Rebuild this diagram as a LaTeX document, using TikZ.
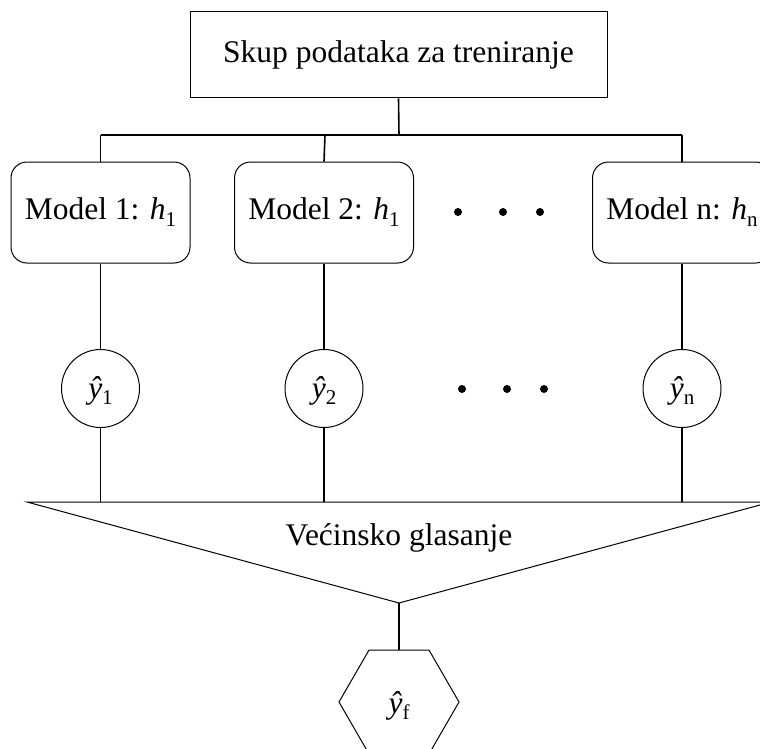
\documentclass[tikz,border=0pt]{standalone}
\usepackage{fontspec}
\setmainfont{Liberation Serif}
\usetikzlibrary{shapes.geometric}
\tikzset{
  txt/.style={font=\fontsize{31.5}{38}\selectfont},
  topbox/.style={draw, line width=1pt, rectangle, minimum width=417pt, minimum height=86pt, inner sep=0pt, txt},
  modelbox/.style={draw, line width=1pt, rectangle, rounded corners=16pt, minimum width=179pt, minimum height=101pt, inner sep=0pt, txt},
  outcircle/.style={draw, line width=1pt, circle, minimum size=78pt, inner sep=0pt},
  hexbox/.style={draw, line width=1pt, regular polygon, regular polygon sides=6, minimum size=120pt, inner sep=0pt},
  conn/.style={line width=1.6pt},
  dotmark/.style={circle, fill=black, minimum size=8pt, inner sep=0pt},
}
\newcommand{\subtx}[1]{\raisebox{-0.22em}{\fontsize{21}{24}\selectfont #1}}
\begin{document}
\begin{tikzpicture}[x=1pt,y=-1pt]
\useasboundingbox (0,0) rectangle (760,749);
\clip (0,0) rectangle (760,749);
% top box
\node[topbox] (data) at (398.5,55) {Skup podataka za treniranje};
% models
\node[modelbox] (m1) at (100.5,212.5) {Model 1: \textit{h}\subtx{1}};
\node[modelbox] (m2) at (324,212.5) {Model 2: \textit{h}\subtx{1}};
\node[modelbox] (mn) at (682,212.5) {Model n: \textit{h}\subtx{n}};
% dots
\node[dotmark] (d1) at (458,212) {};
\node[dotmark] (d2) at (503,212) {};
\node[dotmark] (d3) at (540,212) {};
\node[dotmark] (e1) at (462,389) {};
\node[dotmark] (e2) at (507,389) {};
\node[dotmark] (e3) at (544,389) {};
% outputs
\node[outcircle] (y1) at (100.5,388.5) {};
\node[outcircle] (y2) at (324,388.5) {};
\node[outcircle] (yn) at (682,388.5) {};
\node[txt, anchor=base] (ly1) at (100.5,398) {\textit{ŷ}\subtx{1}};
\node[txt, anchor=base] (ly2) at (324,398) {\textit{ŷ}\subtx{2}};
\node[txt, anchor=base] (lyn) at (682,398) {\textit{ŷ}\subtx{n}};
% voting triangle
\coordinate (tl) at (27,502);
\coordinate (tr) at (771,502);
\coordinate (apex) at (399,603);
\draw[line width=1pt, line join=miter] (tl) -- (tr) -- (apex) -- cycle;
\node[txt, anchor=base] (vote) at (399,545) {Većinsko glasanje};
% final
\node[hexbox] (yf) at (399,702) {};
\node[txt, anchor=base] (lyf) at (399,713) {\textit{ŷ}\subtx{f}};
% connectors
\coordinate (bus) at (399,135);
\draw[conn] (data.south) -- (bus);
\draw[conn] (m1.north |- bus) -- (mn.north |- bus);
\draw[conn] (m1.north |- bus) -- (m1.north);
\draw[conn] (325,135) -- (m2.north);
\draw[conn] (mn.north |- bus) -- (mn.north);
\draw[conn] (m1.south) -- (y1.north);
\draw[conn] (m2.south) -- (y2.north);
\draw[conn] (mn.south) -- (yn.north);
\draw[conn] (y1.south) -- (y1.south |- tl);
\draw[conn] (y2.south) -- (y2.south |- tl);
\draw[conn] (yn.south) -- (yn.south |- tl);
\draw[conn] (apex) -- (yf.north);
\end{tikzpicture}
\end{document}
